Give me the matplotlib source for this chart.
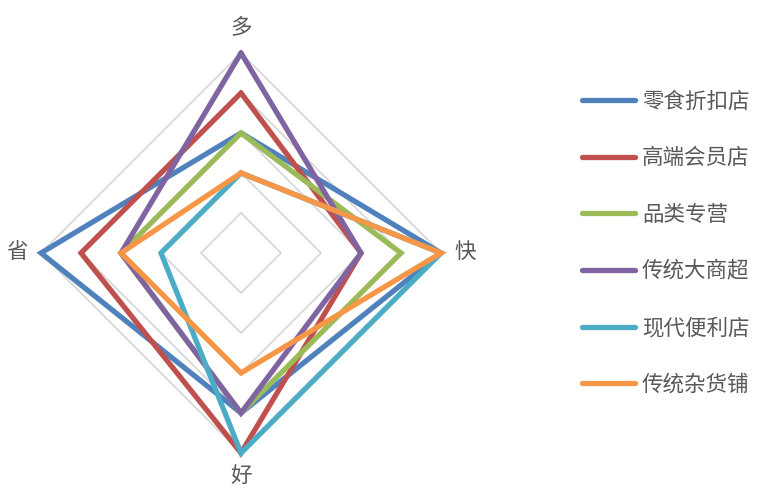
import matplotlib

matplotlib.use("Agg")

import matplotlib.pyplot as plt
import numpy as np

plt.rcParams["font.family"] = ["Noto Sans CJK SC", "DejaVu Sans"]

axes_labels = ["多", "快", "好", "省"]
series_names = ["零食折扣店", "高端会员店", "品类专营", "传统大商超", "现代便利店", "传统杂货铺"]
series_values = [
    [3, 5, 4, 5],
    [4, 3, 5, 4],
    [3, 4, 4, 3],
    [5, 3, 4, 3],
    [2, 5, 5, 2],
    [2, 5, 3, 3],
]
grid_levels = [1, 2, 3, 4, 5]
colors = ["#4F81BD", "#C0504D", "#9BBB59", "#8064A2", "#4BACC6", "#F79646"]

# clockwise from the top
angles = np.pi / 2 - np.arange(len(axes_labels)) * np.pi / 2
closed = np.append(angles, angles[0])

fig = plt.figure(figsize=(7.6, 4.88), dpi=100)
ax = fig.add_axes([0, 0, 1, 1])
scale = 40.0  # pixels per unit
ax.set_xlim(-241 / scale, (760 - 241) / scale)
ax.set_ylim(-(488 - 253) / scale, 253 / scale)
ax.axis("off")

for level in grid_levels:
    r = np.full(len(closed), level)
    ax.plot(r * np.cos(closed), r * np.sin(closed), color="#D9D9D9", lw=1.3, zorder=1)

handles = []
for name, vals, col in zip(series_names, series_values, colors):
    r = np.append(vals, vals[0])
    (line,) = ax.plot(r * np.cos(closed), r * np.sin(closed), color=col, lw=3.8,
                      solid_joinstyle="miter", solid_capstyle="round", label=name, zorder=2)
    handles.append(line)

label_r = max(grid_levels) + 0.6
for lab, a in zip(axes_labels, angles):
    ax.text(label_r * np.cos(a), label_r * np.sin(a) + 0.02, lab, ha="center", va="center",
            fontsize=15.5, color="#595959")

leg = ax.legend(handles=handles, loc="upper left", bbox_to_anchor=(582 / 760, 1 - 90.5 / 488),
                bbox_transform=fig.transFigure, frameon=False, fontsize=15.5,
                handlelength=2.46, handletextpad=0.33, labelspacing=1.61,
                borderpad=0, borderaxespad=0)
for t in leg.get_texts():
    t.set_color("#595959")

fig.savefig("out.png", dpi=100)
